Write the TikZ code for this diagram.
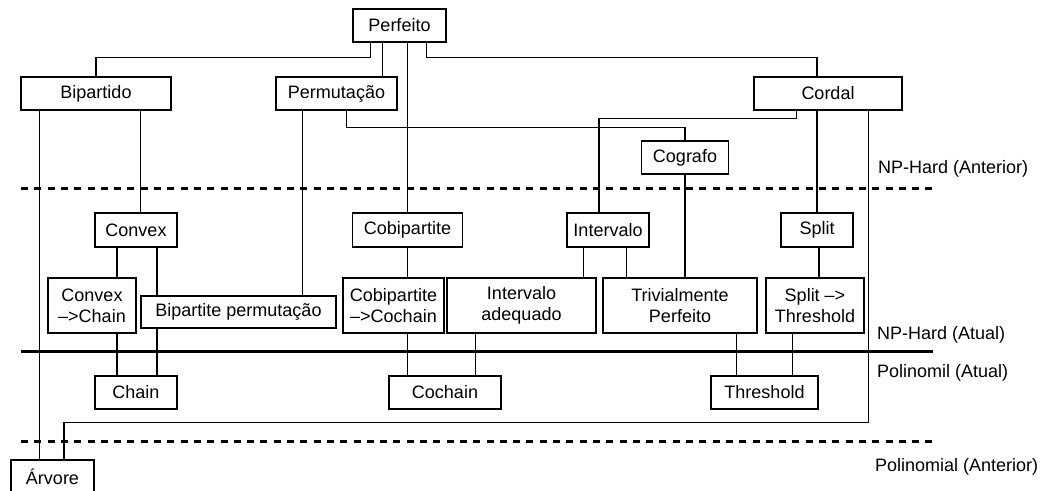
\documentclass[tikz,border=0pt]{standalone}
\usepackage{fontspec}
\setmainfont{Liberation Sans}
\begin{document}
\begin{tikzpicture}[x=1pt,y=-1pt,
  box/.style={draw, line width=1.3pt, inner sep=0pt, align=center, font=\fontsize{18}{21}\selectfont},
  conn/.style={line width=1.3pt},
  lbl/.style={anchor=west, inner sep=0pt, font=\fontsize{18}{21}\selectfont},
  dashline/.style={line width=3pt, dash pattern=on 7pt off 6.3pt},
  thick line/.style={line width=3pt}]
\useasboundingbox (0,0) rectangle (1051,490);
\clip (0,0) rectangle (1051,490);
% nodes
\node[box, minimum width=93pt, minimum height=33pt] (Perfeito) at (399.5,25.5) {Perfeito};
\node[box, minimum width=150pt, minimum height=33pt] (Bipartido) at (96,93.5) {Bipartido};
\node[box, minimum width=121pt, minimum height=33pt] (Permutacao) at (336.5,93.5) {Permutação};
\node[box, minimum width=148pt, minimum height=33pt] (Cordal) at (828,93.5) {Cordal};
\node[box, minimum width=87pt, minimum height=33pt] (Cografo) at (685,157.5) {Cografo};
\node[box, minimum width=82pt, minimum height=34pt] (Convex) at (136,230) {Convex};
\node[box, minimum width=110pt, minimum height=34pt] (Cobipartite) at (407.5,230) {Cobipartite};
\node[box, minimum width=82pt, minimum height=34pt] (Intervalo) at (608,230) {Intervalo};
\node[box, minimum width=72pt, minimum height=34pt] (Split) at (817,230) {Split};
\node[box, minimum width=88pt, minimum height=55pt] (ConvexChain) at (92,305.5) {Convex\\–>Chain};
\node[box, minimum width=195pt, minimum height=32pt] (BipPerm) at (238.5,312) {Bipartite permutação};
\node[box, minimum width=101pt, minimum height=55pt] (CobCochain) at (393.5,305.5) {Cobipartite\\–>Cochain};
\node[box, minimum width=149pt, minimum height=55pt] (IntAdeq) at (521.5,305.5) {Intervalo\\adequado};
\node[box, minimum width=154pt, minimum height=55pt] (TrivPerf) at (680,305.5) {Trivialmente\\Perfeito};
\node[box, minimum width=98pt, minimum height=55pt] (SplitThr) at (815,305.5) {Split –>\\Threshold};
\node[box, minimum width=82pt, minimum height=33pt] (Chain) at (136,392.5) {Chain};
\node[box, minimum width=112pt, minimum height=33pt] (Cochain) at (445,392.5) {Cochain};
\node[box, minimum width=107pt, minimum height=33pt] (Threshold) at (764.5,392.5) {Threshold};
\node[box, minimum width=83pt, minimum height=34pt] (Arvore) at (52.5,477) {Árvore};
% labels
\node[lbl] (l1) at (878,169) {NP-Hard (Anterior)};
\node[lbl] (l2) at (877,335) {NP-Hard (Atual)};
\node[lbl] (l3) at (877,373) {Polinomil (Atual)};
\node[lbl] (l4) at (875,467) {Polinomial (Anterior)};
% class separators
\coordinate (s1a) at (21,188); \coordinate (s1b) at (933,188);
\coordinate (s2a) at (21,351); \coordinate (s2b) at (933,351);
\coordinate (s3a) at (21,441); \coordinate (s3b) at (933,441);
\draw[dashline] (s1a) -- (s1b);
\draw[thick line] (s2a) -- (s2b);
\draw[dashline] (s3a) -- (s3b);
% connectors
\draw[conn] ([xshift=18pt]Perfeito.south west) -- ++(0,15) -| (Bipartido.north);
\draw[conn] ([xshift=30pt]Perfeito.south west) -- ([xshift=30pt]Perfeito.south west |- Permutacao.north);
\draw[conn] (Cobipartite.north |- Perfeito.south) -- (Cobipartite.north);
\draw[conn] ([xshift=74pt]Perfeito.south west) -- ++(0,15) -| ([xshift=-11pt]Cordal.north);
\draw[conn] ([xshift=19pt]Bipartido.south west) -- ([xshift=19pt]Bipartido.south west |- Arvore.north);
\draw[conn] ([xshift=120pt]Bipartido.south west) -- ([xshift=120pt]Bipartido.south west |- Convex.north);
\draw[conn] ([xshift=27pt]Permutacao.south west) -- ([xshift=27pt]Permutacao.south west |- BipPerm.north);
\draw[conn] ([xshift=71pt]Permutacao.south west) -- ++(0,17) -| (Cografo.north);
\draw[conn] ([xshift=43pt]Cordal.south west) -- ++(0,8) -| ([xshift=-9pt]Intervalo.north);
\draw[conn] (Split.north |- Cordal.south) -- (Split.north);
\draw[conn] ([xshift=115pt]Cordal.south west) -- ++(0,312) -| ([xshift=11.5pt]Arvore.north);
\draw[conn] ([xshift=-19pt]Convex.south) -- ([xshift=-19pt]Convex.south |- ConvexChain.north);
\draw[conn] ([xshift=21pt]Convex.south) -- ([xshift=21pt]Convex.south |- BipPerm.north);
\draw[conn] ([xshift=25pt]ConvexChain.south) -- ([xshift=25pt]ConvexChain.south |- Chain.north);
\draw[conn] ([xshift=21pt]Chain.north |- BipPerm.south) -- ([xshift=21pt]Chain.north);
\draw[conn] (Cobipartite.south) -- (Cobipartite.south |- CobCochain.north);
\draw[conn] (Cobipartite.south |- CobCochain.south) -- (Cobipartite.south |- Cochain.north);
\draw[conn] ([xshift=29pt]IntAdeq.south west) -- ([xshift=29pt]IntAdeq.south west |- Cochain.north);
\draw[conn] ([xshift=17pt]Intervalo.south west) -- ([xshift=17pt]Intervalo.south west |- IntAdeq.north);
\draw[conn] ([xshift=60pt]Intervalo.south west) -- ([xshift=60pt]Intervalo.south west |- TrivPerf.north);
\draw[conn] (Cografo.south) -- (Cografo.south |- TrivPerf.north);
\draw[conn] ([xshift=2pt]Split.south) -- ([xshift=2pt]Split.south |- SplitThr.north);
\draw[conn] ([xshift=134pt]TrivPerf.south west) -- ([xshift=134pt]TrivPerf.south west |- Threshold.north);
\draw[conn] ([xshift=27pt]SplitThr.south west) -- ([xshift=27pt]SplitThr.south west |- Threshold.north);
\end{tikzpicture}
\end{document}
